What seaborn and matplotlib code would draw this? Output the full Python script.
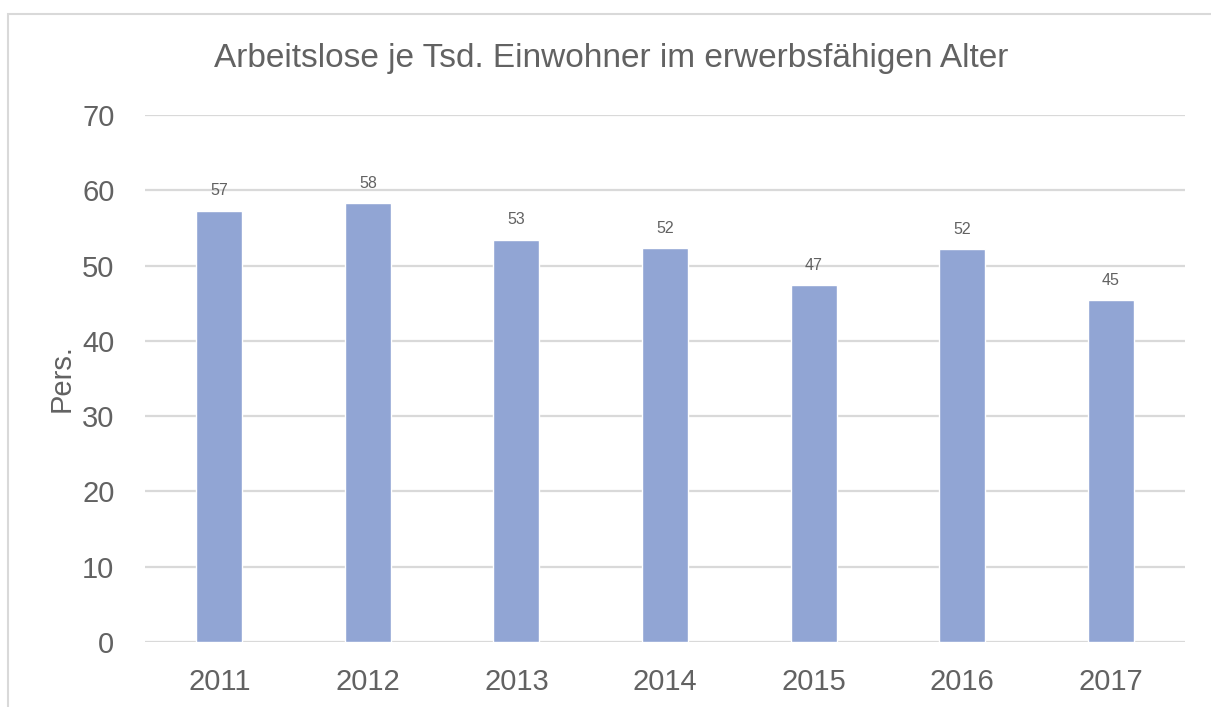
import matplotlib
matplotlib.use("Agg")
import matplotlib.pyplot as plt
import seaborn as sns
import pandas as pd
from matplotlib import font_manager
from matplotlib.patches import Rectangle

years = ["2011", "2012", "2013", "2014", "2015", "2016", "2017"]
values = [57.3, 58.3, 53.4, 52.3, 47.4, 52.2, 45.4]
labels = ["57", "58", "53", "52", "47", "52", "45"]
yticks = [0, 10, 20, 30, 40, 50, 60, 70]
title = "Arbeitslose je Tsd. Einwohner im erwerbsfähigen Alter"
ylabel = "Pers."

sns.set_theme(style="white")
names = {f.name for f in font_manager.fontManager.ttflist}
fam = [f for f in ["Liberation Sans Narrow", "Liberation Sans", "DejaVu Sans"] if f in names]
plt.rcParams["font.family"] = fam

text_color = "#626262"
bar_color = "#91A5D4"
grid_color = "#D9D9D9"

df = pd.DataFrame({"year": years, "value": values})

fig = plt.figure(figsize=(12.11, 7.07), dpi=100)
ax = fig.add_axes([145 / 1211, 1 - 642 / 707, (1185 - 145) / 1211, (642 - 115) / 707])

sns.barplot(data=df, x="year", y="value", color=bar_color, width=0.31,
            saturation=1, ax=ax, zorder=3)

ax.set_xlim(-0.5, len(years) - 0.5)
ax.set_ylim(0, 70)
ax.set_yticks(yticks)
ax.set_yticklabels([str(t) for t in yticks])
for s in ax.spines.values():
    s.set_visible(False)
ax.grid(axis="y", color=grid_color, linewidth=1.6, zorder=0)
ax.grid(axis="x", visible=False)
ax.tick_params(axis="both", length=0, labelsize=21, labelcolor=text_color)
ax.tick_params(axis="y", pad=22)
ax.tick_params(axis="x", pad=19)
ax.set_xlabel("")
ax.set_ylabel(ylabel, fontsize=21, color=text_color, labelpad=5)

for i, (v, lab) in enumerate(zip(values, labels)):
    ax.annotate(lab, (i, v), xytext=(0, 9), textcoords="offset points",
                ha="center", va="bottom", fontsize=11.5, color=text_color)

fig.text(611 / 1211, 1 - 58 / 707, title, ha="center", va="center",
         fontsize=24, color=text_color)

frame = Rectangle((8 / 1211, -0.1), 1.2, 1 - 14 / 707 + 0.1, transform=fig.transFigure,
                  fill=False, edgecolor="#D9D9D9", linewidth=1.5)
fig.add_artist(frame)

fig.savefig("out.png", dpi=100)
